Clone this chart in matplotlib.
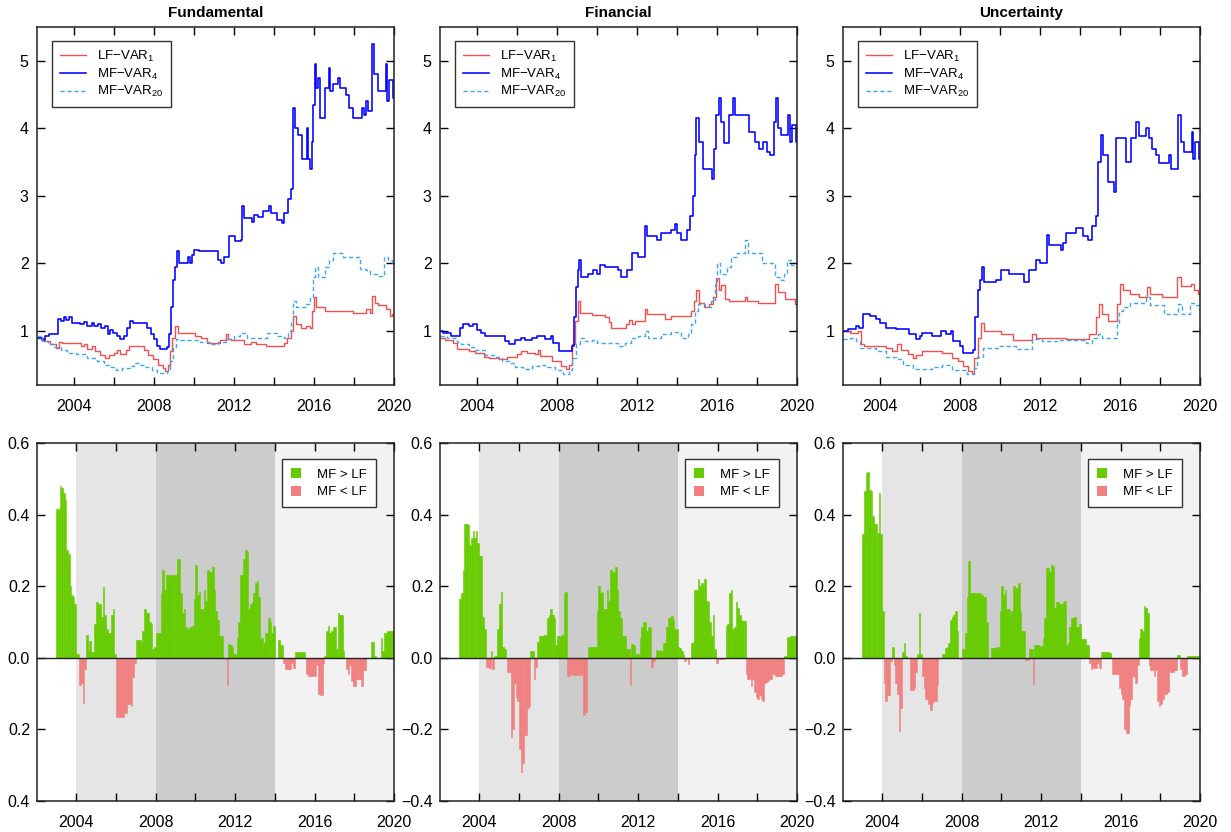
import matplotlib
matplotlib.use('Agg')
import matplotlib.pyplot as plt
from matplotlib.patches import Patch
import numpy as np

plt.rcParams['font.family'] = ['Liberation Sans', 'DejaVu Sans']
plt.rcParams['mathtext.default'] = 'regular'

titles = ['Fundamental', 'Financial', 'Uncertainty']

# ---- top row: cumulative returns (break points, value held until next point)
fund_lf_t = [2002.17, 2002.5, 2002.8, 2003.1, 2003.25, 2003.4, 2004.35, 2004.5, 2004.65, 2004.9,
             2005.05, 2005.3, 2005.55, 2005.75, 2006.0, 2006.15, 2006.3, 2006.6, 2006.75, 2007.5,
             2007.7, 2007.95, 2008.2, 2008.45, 2008.55, 2008.7, 2008.8, 2008.9, 2009.05, 2009.2,
             2010.05, 2010.35, 2010.65, 2011.3, 2011.6, 2011.7, 2011.85, 2012.5, 2012.85, 2013.1,
             2013.6, 2014.5, 2014.65, 2014.85, 2014.95, 2015.1, 2015.35, 2015.6, 2015.8, 2015.9,
             2016.0, 2016.1, 2016.55, 2017.95, 2018.6, 2018.8, 2018.92, 2019.05, 2019.2, 2019.6,
             2019.8, 2019.9, 2020.0]
fund_lf_v = [0.9, 0.85, 0.8, 0.75, 0.83, 0.82, 0.78, 0.8, 0.74, 0.78,
             0.7, 0.64, 0.6, 0.65, 0.68, 0.72, 0.66, 0.72, 0.78, 0.72,
             0.65, 0.58, 0.5, 0.45, 0.4, 0.5, 0.7, 0.9, 1.08, 0.97,
             0.93, 0.9, 0.82, 0.86, 0.95, 0.88, 0.87, 0.8, 0.84, 0.8,
             0.78, 0.82, 0.9, 1.0, 1.22, 1.1, 1.04, 1.08, 1.05, 1.3,
             1.5, 1.35, 1.3, 1.27, 1.32, 1.27, 1.52, 1.42, 1.38, 1.32,
             1.22, 1.25, 1.25]
fund_mf4_t = [2002.17, 2002.4, 2002.55, 2002.75, 2003.2, 2003.35, 2003.5, 2003.6, 2003.75, 2003.9,
              2004.3, 2004.5, 2004.65, 2004.9, 2005.0, 2005.2, 2005.35, 2005.55, 2005.7, 2005.8,
              2005.95, 2006.15, 2006.3, 2006.5, 2006.65, 2006.8, 2006.95, 2007.65, 2007.85, 2008.0,
              2008.15, 2008.3, 2008.65, 2008.75, 2008.85, 2008.95, 2009.05, 2009.15, 2009.25, 2009.7,
              2009.8, 2009.9, 2010.0, 2010.25, 2011.2, 2011.35, 2011.5, 2011.75, 2012.05, 2012.35,
              2012.42, 2012.5, 2012.9, 2013.0, 2013.2, 2013.45, 2013.75, 2013.85, 2014.15, 2014.4,
              2014.5, 2014.7, 2014.85, 2014.95, 2015.05, 2015.2, 2015.4, 2015.65, 2015.7, 2015.8,
              2015.9, 2015.95, 2016.05, 2016.12, 2016.2, 2016.3, 2016.55, 2016.75, 2016.8, 2016.95,
              2017.2, 2017.3, 2017.6, 2017.75, 2017.95, 2018.4, 2018.5, 2018.6, 2018.7, 2018.9,
              2019.0, 2019.2, 2019.6, 2019.65, 2019.75, 2019.95, 2020.0]
fund_mf4_v = [0.9, 0.87, 0.92, 0.95, 1.18, 1.15, 1.21, 1.16, 1.2, 1.12,
              1.1, 1.13, 1.08, 1.12, 1.08, 1.1, 1.05, 1.07, 0.95, 1.02,
              0.97, 0.93, 0.88, 0.92, 1.05, 1.15, 1.12, 1.05, 0.95, 0.88,
              0.78, 0.73, 0.76, 0.95, 1.35, 1.75, 1.95, 2.18, 2.0, 2.1,
              2.0, 2.12, 2.2, 2.18, 2.05, 2.0, 2.1, 2.4, 2.33, 2.35,
              2.85, 2.67, 2.62, 2.72, 2.68, 2.78, 2.85, 2.75, 2.65, 2.6,
              2.75, 2.95, 3.1, 4.3, 4.0, 3.9, 3.55, 4.0, 3.55, 3.4,
              3.8, 4.35, 4.95, 4.6, 4.75, 4.15, 4.6, 4.9, 4.55, 4.65,
              4.75, 4.6, 4.5, 4.3, 4.15, 4.3, 4.2, 4.4, 4.25, 5.25,
              4.8, 4.55, 4.95, 4.4, 4.72, 4.45, 4.45]
fund_mf20_t = [2002.17, 2002.4, 2002.7, 2003.0, 2003.35, 2003.65, 2004.1, 2004.65, 2005.15, 2005.5,
               2005.8, 2006.1, 2006.4, 2006.8, 2007.0, 2007.3, 2007.5, 2007.9, 2008.15, 2008.65,
               2008.8, 2008.95, 2009.1, 2009.3, 2010.3, 2010.8, 2011.2, 2011.6, 2012.0, 2012.3,
               2012.65, 2013.65, 2014.15, 2014.5, 2014.7, 2014.85, 2014.95, 2015.1, 2015.6, 2015.8,
               2015.95, 2016.05, 2016.2, 2016.55, 2016.75, 2016.95, 2017.45, 2018.3, 2018.6, 2018.8,
               2019.2, 2019.5, 2019.7, 2019.9, 2020.0]
fund_mf20_v = [0.92, 0.85, 0.8, 0.76, 0.72, 0.68, 0.66, 0.6, 0.55, 0.5,
               0.46, 0.42, 0.45, 0.48, 0.52, 0.5, 0.46, 0.42, 0.38, 0.4,
               0.55, 0.75, 0.88, 0.86, 0.84, 0.8, 0.83, 0.88, 0.93, 0.97,
               0.9, 0.97, 0.93, 0.9, 1.0, 1.15, 1.45, 1.35, 1.4, 1.5,
               1.8, 1.95, 1.8, 1.95, 2.05, 2.15, 2.1, 1.92, 1.9, 1.85,
               1.82, 2.1, 2.05, 2.0, 2.0]

fin_lf_t = [2002.17, 2002.4, 2002.8, 2003.0, 2003.6, 2003.9, 2004.35, 2004.6, 2005.1, 2005.5,
            2006.0, 2006.2, 2006.5, 2006.9, 2007.05, 2007.15, 2007.75, 2008.2, 2008.45, 2008.6,
            2008.75, 2008.9, 2009.05, 2009.15, 2009.75, 2010.4, 2010.6, 2010.7, 2011.45, 2011.6,
            2011.75, 2011.9, 2012.4, 2012.5, 2013.4, 2013.7, 2014.7, 2014.85, 2014.95, 2015.1,
            2015.35, 2015.6, 2015.8, 2015.95, 2016.1, 2016.2, 2016.4, 2016.6, 2017.4, 2017.5,
            2018.05, 2018.9, 2019.05, 2019.4, 2019.9, 2020.0]
fin_lf_v = [0.9, 0.86, 0.82, 0.74, 0.7, 0.68, 0.62, 0.6, 0.58, 0.62,
            0.66, 0.7, 0.67, 0.66, 0.72, 0.63, 0.56, 0.48, 0.43, 0.5,
            0.8, 1.15, 1.45, 1.27, 1.23, 1.2, 1.13, 1.05, 1.1, 1.16,
            1.1, 1.15, 1.33, 1.25, 1.18, 1.22, 1.3, 1.45, 1.6, 1.42,
            1.35, 1.4, 1.5, 1.78, 1.6, 1.68, 1.48, 1.45, 1.5, 1.45,
            1.42, 1.7, 1.57, 1.48, 1.4, 1.4]
fin_mf4_t = [2002.17, 2002.3, 2002.7, 2003.15, 2003.3, 2003.6, 2003.8, 2004.0, 2004.2, 2004.4,
             2005.4, 2005.6, 2005.9, 2006.2, 2006.4, 2006.75, 2007.0, 2007.4, 2007.7, 2007.8,
             2008.1, 2008.75, 2008.85, 2008.95, 2009.05, 2009.12, 2009.2, 2009.55, 2009.8, 2010.0,
             2010.15, 2010.4, 2011.05, 2011.2, 2011.5, 2011.75, 2012.05, 2012.42, 2012.5, 2013.0,
             2013.2, 2013.7, 2013.9, 2014.0, 2014.2, 2014.5, 2014.65, 2014.8, 2014.9, 2014.97,
             2015.1, 2015.3, 2015.75, 2015.85, 2015.95, 2016.1, 2016.18, 2016.35, 2016.6, 2016.8,
             2016.9, 2017.6, 2017.9, 2018.1, 2018.3, 2018.5, 2018.65, 2018.85, 2018.95, 2019.05,
             2019.2, 2019.55, 2019.65, 2019.75, 2019.95, 2020.0]
fin_mf4_v = [1.0, 0.97, 0.92, 1.05, 1.1, 1.07, 1.1, 1.02, 0.97, 0.92,
             0.85, 0.8, 0.87, 0.9, 0.86, 0.9, 0.93, 0.88, 0.92, 0.82,
             0.7, 0.78, 1.2, 1.65, 1.9, 2.05, 1.8, 1.85, 1.9, 1.85,
             1.98, 1.95, 1.9, 1.8, 1.9, 2.15, 2.1, 2.55, 2.4, 2.35,
             2.45, 2.5, 2.58, 2.45, 2.35, 2.5, 2.7, 3.0, 3.6, 4.15,
             3.8, 3.4, 3.25, 3.7, 4.2, 4.45, 4.1, 3.78, 4.2, 4.45,
             4.2, 3.95, 3.8, 3.7, 3.8, 3.65, 3.6, 4.1, 4.45, 4.0,
             3.9, 4.2, 3.8, 4.05, 3.8, 3.8]
fin_mf20_t = [2002.17, 2002.5, 2003.0, 2003.2, 2003.6, 2003.85, 2004.4, 2004.9, 2005.25, 2005.6,
              2005.9, 2006.3, 2006.75, 2007.1, 2007.4, 2007.9, 2008.3, 2008.6, 2008.75, 2008.95,
              2009.15, 2009.4, 2009.75, 2010.0, 2011.05, 2011.4, 2011.7, 2012.05, 2012.4, 2012.55,
              2013.2, 2013.7, 2014.2, 2014.55, 2014.7, 2014.9, 2015.05, 2015.4, 2015.7, 2015.9,
              2016.0, 2016.15, 2016.5, 2016.7, 2017.0, 2017.4, 2017.55, 2018.25, 2018.9, 2019.2,
              2019.35, 2019.5, 2019.7, 2019.95, 2020.0]
fin_mf20_v = [0.92, 0.9, 0.84, 0.8, 0.76, 0.72, 0.64, 0.62, 0.56, 0.52,
              0.46, 0.43, 0.48, 0.5, 0.46, 0.42, 0.36, 0.42, 0.6, 0.8,
              0.9, 0.85, 0.86, 0.82, 0.77, 0.82, 0.9, 0.92, 1.0, 0.9,
              0.95, 0.98, 0.9, 0.95, 1.1, 1.3, 1.4, 1.35, 1.45, 1.7,
              2.0, 1.85, 1.95, 2.1, 2.15, 2.35, 2.15, 2.0, 1.8, 1.75,
              1.85, 2.05, 1.98, 1.95, 1.95]

unc_lf_t = [2002.17, 2002.5, 2002.9, 2003.05, 2003.2, 2004.3, 2004.6, 2004.85, 2005.05, 2005.4,
            2005.65, 2005.8, 2006.1, 2007.1, 2007.6, 2007.9, 2008.15, 2008.4, 2008.6, 2008.7,
            2008.9, 2009.05, 2009.2, 2010.05, 2010.65, 2011.6, 2011.8, 2013.3, 2014.45, 2014.8,
            2014.95, 2015.1, 2015.4, 2015.85, 2016.0, 2016.15, 2016.5, 2016.95, 2017.35, 2017.5,
            2018.1, 2018.85, 2019.05, 2019.55, 2019.7, 2019.9, 2020.0]
unc_lf_v = [1.0, 0.97, 1.0, 0.8, 0.78, 0.75, 0.7, 0.8, 0.72, 0.66,
            0.6, 0.65, 0.7, 0.68, 0.6, 0.55, 0.48, 0.4, 0.38, 0.6,
            0.9, 1.12, 1.0, 0.95, 0.87, 0.95, 0.9, 0.88, 0.95, 1.2,
            1.4, 1.25, 1.15, 1.4, 1.7, 1.6, 1.55, 1.5, 1.65, 1.55,
            1.5, 1.8, 1.67, 1.7, 1.6, 1.55, 1.55]
unc_mf4_t = [2002.17, 2002.4, 2002.8, 2002.95, 2003.15, 2003.5, 2003.8, 2004.0, 2004.3, 2004.8,
             2005.45, 2005.8, 2006.0, 2006.1, 2006.6, 2007.05, 2007.3, 2007.55, 2007.65, 2008.0,
             2008.15, 2008.65, 2008.75, 2008.9, 2009.0, 2009.12, 2009.2, 2009.8, 2010.05, 2010.45,
             2011.2, 2011.45, 2011.8, 2012.0, 2012.38, 2012.45, 2013.05, 2013.15, 2013.3, 2013.8,
             2014.15, 2014.4, 2014.6, 2014.8, 2014.9, 2015.05, 2015.15, 2015.4, 2015.7, 2015.8,
             2016.3, 2016.55, 2016.8, 2016.95, 2017.3, 2017.45, 2017.6, 2017.8, 2017.95, 2018.45,
             2018.55, 2018.9, 2019.05, 2019.2, 2019.6, 2019.65, 2019.75, 2019.95, 2020.0]
unc_mf4_v = [1.0, 1.03, 1.08, 1.05, 1.25, 1.22, 1.17, 1.12, 1.05, 1.03,
             0.95, 0.88, 0.93, 0.97, 0.92, 1.0, 0.95, 1.0, 0.85, 0.78,
             0.68, 0.72, 1.2, 1.6, 1.75, 1.95, 1.72, 1.75, 1.9, 1.85,
             1.72, 1.9, 2.05, 2.0, 2.42, 2.28, 2.2, 2.3, 2.45, 2.52,
             2.4, 2.35, 2.55, 2.7, 3.5, 3.9, 3.6, 3.2, 3.05, 3.85,
             3.5, 3.85, 4.1, 3.88, 4.0, 3.85, 3.7, 3.6, 3.48, 3.6,
             3.4, 4.2, 3.8, 3.65, 3.95, 3.55, 3.8, 3.55, 3.55]
unc_mf20_t = [2002.17, 2002.5, 2002.8, 2003.0, 2003.8, 2004.3, 2004.8, 2005.15, 2005.65, 2006.6,
              2007.1, 2007.6, 2008.35, 2008.7, 2008.85, 2009.15, 2009.95, 2010.8, 2011.6, 2012.1,
              2012.95, 2014.3, 2014.6, 2014.9, 2015.1, 2015.85, 2015.95, 2016.15, 2016.5, 2017.3,
              2017.5, 2018.2, 2018.9, 2019.1, 2019.5, 2019.7, 2019.95, 2020.0]
unc_mf20_v = [0.88, 0.9, 0.85, 0.75, 0.7, 0.62, 0.58, 0.5, 0.43, 0.47,
              0.5, 0.42, 0.37, 0.45, 0.62, 0.75, 0.78, 0.73, 0.88, 0.85,
              0.87, 0.82, 0.9, 0.95, 0.9, 1.1, 1.3, 1.35, 1.42, 1.5,
              1.38, 1.25, 1.4, 1.25, 1.42, 1.38, 1.32, 1.32]

# ---- bottom row: monthly MF minus LF, Jan 2002 .. Dec 2019
fund_diff = [0, 0, 0, 0, 0, 0, 0, 0, 0, 0, 0, 0,
             0.415, 0.415, 0.48, 0.475, 0.46, 0.44, 0.30, 0.29, 0.2, 0.175, 0.17, 0.15,
             0.01, 0.01, -0.075, -0.07, -0.125, -0.03, 0.065, 0.02, 0.048, 0.015, 0.015, 0.095,
             0.155, 0.15, 0.15, 0.115, 0.198, 0.12, 0.08, 0.07, 0.07, 0.12, 0.135, 0.01,
             -0.165, -0.165, -0.165, -0.165, -0.165, -0.155, -0.155, -0.13, -0.13, -0.135, -0.055, -0.015,
             0.05, 0.05, 0.05, 0.04, 0.075, 0.135, 0.125, 0.125, 0.1, 0.095, 0.025, 0.03,
             0.07, 0.07, 0.07, 0.18, 0.245, 0.19, 0.23, 0.23, 0.23, 0.23, 0.23, 0.23,
             0.23, 0.275, 0.275, 0.18, 0.125, 0.135, 0.085, 0.08, 0.085, 0.085, 0.09, 0.165,
             0.26, 0.175, 0.185, 0.135, 0.135, 0.19, 0.16, 0.245, 0.24, 0.24, 0.255, 0.19,
             0.13, 0.105, 0.06, 0.06, 0.06, 0.0, 0.0, -0.075, 0.038, 0.035, 0.03, 0.01,
             0.01, 0.055, 0.1, 0.23, 0.23, 0.275, 0.3, 0.295, 0.135, 0.15, 0.155, 0.18,
             0.21, 0.215, 0.17, 0.055, 0.055, 0.04, 0.07, 0.07, 0.11, 0.1, 0.07, 0.09,
             0.0, 0.0, 0.05, 0.035, 0.035, -0.015, -0.03, -0.03, -0.03, -0.03, -0.015, -0.028,
             0.015, 0.015, 0.015, 0.015, 0.015, 0.015, 0.0, -0.045, -0.05, -0.05, -0.05, -0.05,
             -0.05, -0.02, -0.1, -0.105, -0.105, -0.015, 0.005, 0.075, 0.09, 0.07, 0.075, 0.085,
             0.085, 0.025, 0.125, 0.12, 0.12, 0.02, 0.0, -0.03, -0.045, -0.02, -0.065, -0.08,
             -0.08, -0.06, -0.06, -0.06, -0.08, -0.035, -0.035, 0.0, 0.0, 0.0, 0.045, 0.045,
             0.005, 0.0, 0.0, 0.0, 0.055, 0.02, 0.07, 0.07, 0.075, 0.075, 0.075, 0.075]
fin_diff = [0, 0, 0, 0, 0, 0, 0, 0, 0, 0, 0, 0,
            0.165, 0.18, 0.245, 0.375, 0.375, 0.37, 0.315, 0.335, 0.355, 0.335, 0.355, 0.32,
            0.285, 0.285, 0.115, 0.08, -0.025, -0.025, -0.028, 0.02, -0.03, 0.005, 0.005, 0.08,
            0.15, 0.185, 0.03, 0.025, 0.0, -0.04, -0.04, -0.22, -0.2, -0.07, -0.11, -0.12,
            -0.255, -0.32, -0.295, -0.215, -0.215, -0.14, -0.135, 0.02, 0.02, -0.06, -0.025, 0.045,
            0.06, 0.06, 0.06, 0.065, 0.065, 0.11, 0.12, 0.135, 0.12, 0.11, 0.035, 0.06,
            0.06, 0.06, 0.065, 0.18, 0.185, -0.05, -0.05, -0.045, -0.048, -0.048, -0.048, -0.048,
            -0.048, -0.048, -0.045, -0.16, -0.15, 0.0, 0.03, 0.03, 0.03, 0.03, 0.03, 0.13,
            0.2, 0.18, 0.185, 0.135, 0.135, 0.19, 0.16, 0.245, 0.24, 0.24, 0.255, 0.19,
            0.13, 0.11, 0.06, 0.06, 0.06, 0.025, 0.025, -0.075, 0.038, 0.035, 0.01, 0.01,
            0.01, 0.055, 0.085, 0.1, 0.1, 0.075, 0.085, 0.085, -0.025, -0.01, 0.0, 0.023,
            0.02, 0.022, 0.02, 0.04, 0.04, 0.085, 0.11, 0.115, 0.117, 0.105, 0.08, 0.08,
            0.03, 0.028, 0.02, 0.01, -0.01, 0.0, -0.018, 0.0, 0.04, 0.045, 0.19, 0.19,
            0.22, 0.2, 0.21, 0.2, 0.22, 0.16, 0.155, 0.1, 0.06, 0.12, 0.025, -0.015,
            0.0, -0.003, -0.003, -0.003, 0.0, 0.09, 0.095, 0.18, 0.19, 0.08, 0.085, 0.157,
            0.14, 0.12, 0.105, 0.102, 0.102, -0.045, -0.06, -0.058, -0.08, -0.06, -0.095, -0.11,
            -0.115, -0.105, -0.115, -0.12, -0.07, -0.068, -0.065, -0.06, -0.06, -0.045, -0.045, -0.05,
            -0.05, -0.05, -0.05, -0.045, 0.005, 0.005, 0.058, 0.055, 0.06, 0.062, 0.062, 0.062]
unc_diff = [0, 0, 0, 0, 0, 0, 0, 0, 0, 0, 0, 0,
            0.345, 0.465, 0.515, 0.52, 0.47, 0.465, 0.395, 0.375, 0.375, 0.35, 0.46, 0.345,
            0.13, -0.07, -0.12, -0.105, -0.105, -0.01, 0.03, -0.02, -0.07, -0.1, -0.205, -0.14,
            0.015, 0.04, 0.005, 0.0, 0.0, -0.09, -0.09, -0.085, -0.04, 0.01, 0.125, 0.01,
            -0.05, -0.085, -0.115, -0.115, -0.13, -0.145, -0.125, -0.12, -0.12, -0.075, 0.0, 0.0,
            0.012, 0.012, 0.028, 0.03, 0.04, 0.105, 0.115, 0.12, 0.13, 0.075, 0.0, -0.002,
            0.025, 0.025, 0.07, 0.17, 0.27, 0.18, 0.18, 0.18, 0.18, 0.18, 0.18, 0.18,
            0.175, 0.17, 0.17, 0.1, 0.0, 0.0, 0.028, 0.027, 0.028, 0.03, 0.03, 0.13,
            0.2, 0.175, 0.19, 0.135, 0.135, 0.12, 0.13, 0.2, 0.195, 0.195, 0.21, 0.13,
            0.075, 0.075, -0.005, -0.005, -0.005, 0.025, 0.025, -0.072, 0.037, 0.035, 0.035, 0.033,
            0.032, 0.055, 0.11, 0.25, 0.25, 0.24, 0.26, 0.255, 0.14, 0.155, 0.155, 0.15,
            0.15, 0.155, 0.16, 0.035, 0.04, 0.085, 0.11, 0.11, 0.115, 0.085, 0.085, 0.095,
            0.052, 0.052, 0.052, 0.035, 0.035, -0.015, -0.03, -0.028, -0.028, -0.028, -0.015, -0.028,
            0.015, 0.015, 0.015, 0.015, 0.015, 0.013, 0.0, -0.045, -0.045, -0.045, -0.045, -0.085,
            -0.1, -0.115, -0.2, -0.21, -0.21, -0.135, -0.115, -0.05, -0.055, -0.07, -0.02, 0.055,
            0.08, 0.075, 0.145, 0.14, 0.125, -0.02, -0.035, -0.035, -0.05, -0.035, -0.12, -0.135,
            -0.13, -0.115, -0.1, -0.1, -0.095, -0.038, -0.04, -0.04, -0.035, -0.035, 0.008, 0.008,
            -0.03, -0.05, -0.05, -0.045, 0.005, 0.005, 0.005, 0.005, 0.005, 0.005, 0.005, 0.005]

lf_series = [(fund_lf_t, fund_lf_v), (fin_lf_t, fin_lf_v), (unc_lf_t, unc_lf_v)]
mf4_series = [(fund_mf4_t, fund_mf4_v), (fin_mf4_t, fin_mf4_v), (unc_mf4_t, unc_mf4_v)]
mf20_series = [(fund_mf20_t, fund_mf20_v), (fin_mf20_t, fin_mf20_v), (unc_mf20_t, unc_mf20_v)]
diff_series = [fund_diff, fin_diff, unc_diff]

# shaded sub-periods in the bottom row
periods = [(2004, 2008, '#E5E5E5'), (2008, 2014, '#CCCCCC'), (2014, 2020, '#F2F2F2')]

top_yticks = [1, 2, 3, 4, 5]
bot_yticks = [-0.4, -0.2, 0.0, 0.2, 0.4, 0.6]
bot_ylabels = ['\u22120.4', '\u22120.2', '0.0', '0.2', '0.4', '0.6']
year_ticks = list(range(2004, 2021, 2))
year_labels = [str(y) if y % 4 == 0 else '' for y in year_ticks]

red = '#F24F4F'
blue = '#0000FF'
lblue = '#3DA5F4'
green = '#66CC00'
pink = '#F08080'

W, H = 1231, 832
lefts = [37, 440, 843]

fig = plt.figure(figsize=(W / 100, H / 100), dpi=100)

for i in range(3):
    # ---------- top panel
    ax = fig.add_axes([lefts[i] / W, 1 - 385 / H, 357 / W, 358 / H])
    t, v = lf_series[i]
    l1, = ax.plot(t, v, drawstyle='steps-post', color=red, lw=1.0, label='LF\u2212VAR$_1$')
    t, v = mf4_series[i]
    l2, = ax.plot(t, v, drawstyle='steps-post', color=blue, lw=1.15, label='MF\u2212VAR$_4$')
    t, v = mf20_series[i]
    l3, = ax.plot(t, v, drawstyle='steps-post', color=lblue, lw=1.0,
                  linestyle=(0, (3, 2)), label='MF\u2212VAR$_{20}$')
    ax.set_xlim(2002.17, 2020.0)
    ax.set_ylim(0.2, 5.5)
    ax.set_yticks(top_yticks)
    ax.set_xticks(year_ticks)
    ax.set_xticklabels(year_labels)
    ax.tick_params(direction='in', length=6, width=1, top=True, right=True, labelsize=11.5)
    ax.tick_params(axis='x', pad=10)
    ax.tick_params(axis='y', pad=6)
    for s in ax.spines.values():
        s.set_linewidth(1.1)
        s.set_color('#222222')
    ax.set_title(titles[i], fontsize=11, fontweight='bold', pad=7)
    leg = ax.legend(handles=[l1, l2, l3], loc='upper left', bbox_to_anchor=(0.042, 0.961),
                    borderaxespad=0, fontsize=9.5, handlelength=2.0, handletextpad=0.8,
                    labelspacing=0.2, borderpad=0.6, fancybox=False, framealpha=1)
    leg.get_frame().set_edgecolor('#333333')
    leg.get_frame().set_linewidth(1.0)

    # ---------- bottom panel
    ax = fig.add_axes([lefts[i] / W, 1 - 801 / H, 357 / W, 358 / H])
    for a, b, c in periods:
        ax.axvspan(a, b, color=c, lw=0, zorder=0)
    d = np.array(diff_series[i])
    x = 2002 + np.arange(len(d)) / 12
    ax.bar(x[d >= 0], d[d >= 0], width=1 / 12, align='edge', color=green,
           edgecolor=green, lw=0.4, zorder=2)
    ax.bar(x[d < 0], d[d < 0], width=1 / 12, align='edge', color=pink,
           edgecolor=pink, lw=0.4, zorder=2)
    ax.axhline(0, color='#222222', lw=1.0, zorder=3)
    ax.set_xlim(2002.03, 2019.95)
    ax.set_ylim(-0.4, 0.6)
    ax.set_yticks(bot_yticks)
    if i == 0:
        # the figure's left edge cuts off the minus signs in the first panel
        ax.set_yticklabels([s.replace('\u2212', '') for s in bot_ylabels])
    else:
        ax.set_yticklabels(bot_ylabels)
    ax.set_xticks(year_ticks)
    ax.set_xticklabels(year_labels)
    ax.tick_params(direction='in', length=6, width=1, top=True, right=True, labelsize=11.5)
    ax.tick_params(axis='x', pad=10)
    ax.tick_params(axis='y', pad=5)
    for s in ax.spines.values():
        s.set_linewidth(1.1)
        s.set_color('#222222')
    handles = [Patch(facecolor=green, edgecolor='none', label='MF > LF'),
               Patch(facecolor=pink, edgecolor='none', label='MF < LF')]
    leg = ax.legend(handles=handles, loc='upper right', bbox_to_anchor=(0.95, 0.955),
                    borderaxespad=0, fontsize=9.5, handlelength=0.8, handleheight=0.8,
                    handletextpad=1.2, labelspacing=0.35, borderpad=0.7,
                    fancybox=False, framealpha=1)
    leg.get_frame().set_edgecolor('#333333')
    leg.get_frame().set_linewidth(1.0)
    leg.set_zorder(5)

fig.savefig('out.png', dpi=100)
